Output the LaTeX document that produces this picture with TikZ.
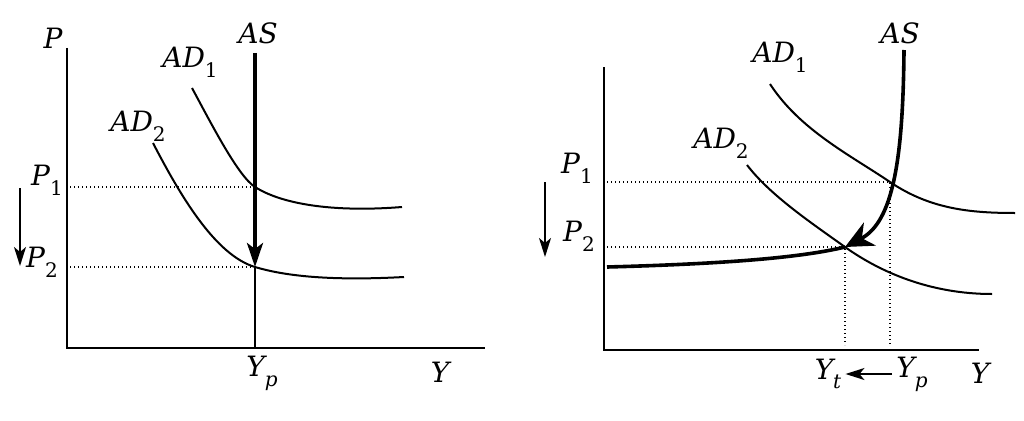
\documentclass[tikz,border=0pt]{standalone}
\usepackage{fontspec}
\setmainfont{DejaVu Serif}
\usetikzlibrary{arrows.meta}
\newcommand{\lsub}[1]{\raisebox{-0.35em}{\fontsize{20}{22}\selectfont #1}}
\tikzset{
  axis/.style={line width=2.2pt},
  curve/.style={line width=2pt},
  heavy/.style={line width=3.6pt},
  guide/.style={line width=1.3pt, dash pattern=on 1.3pt off 2.7pt},
  lbl/.style={font=\fontsize{28}{32}\selectfont\itshape, inner sep=0pt},
}
\begin{document}
\begin{tikzpicture}[x=1pt,y=-1pt]
        \useasboundingbox (0,0) rectangle (1024,420);

        % left: vertical AS
        \coordinate (le1) at (255,187);
        \coordinate (le2) at (255,267);
        \draw[axis] (67,48) -- (67,348) -- (485,348);
        \node[lbl](lp) at (53,38){P};
        \node[lbl](las) at (258,33){AS};
        \node[lbl](lad1) at (190,62){AD\lsub{\upshape 1}};
        \node[lbl](lad2) at (138,126){AD\lsub{\upshape 2}};
        \node[lbl](lp1) at (47,180){P\lsub{\upshape 1}};
        \node[lbl](lp2) at (42,262){P\lsub{\upshape 2}};
        \node[lbl](lyp) at (262,373){Y\lsub{p}};
        \node[lbl](ly) at (440,372){Y};

        \draw[curve] (192,88) .. controls (212,125) and (238,176) .. (le1) .. controls (285,206) and (340,212) .. (402,207);
        \draw[curve] (153,143) .. controls (180,195) and (215,255) .. (le2) .. controls (285,276) and (330,281) .. (404,277);
        \draw[guide] (70,187) -- (le1);
        \draw[guide] (70,267) -- (le2);
        \draw[heavy, -{Stealth[length=24pt, width=16pt, inset=6pt]}] (255,53) -- (le2);
        \draw[line width=1.8pt] (le2) -- (255,348);
        \coordinate (la1) at (20,188);
        \coordinate (la2) at (20,266);
        \draw[line width=1.8pt, -{Stealth[length=19pt, width=12pt, inset=5pt]}] (la1) -- (la2);

        % right: curved AS
        \coordinate (re1) at (890,182);
        \coordinate (re2) at (845,247);
        \draw[axis] (604,67) -- (604,350) -- (979,350);
        \node[lbl](ras) at (900,33){AS};
        \node[lbl](rad1) at (780,57){AD\lsub{\upshape 1}};
        \node[lbl](rad2) at (721,143){AD\lsub{\upshape 2}};
        \node[lbl](rp1) at (577,168){P\lsub{\upshape 1}};
        \node[lbl](rp2) at (579,236){P\lsub{\upshape 2}};
        \node[lbl](ryt) at (828,374){Y\lsub{t}};
        \node[lbl](ryp) at (912,374){Y\lsub{p}};
        \node[lbl](ry) at (980,373){Y};

        \draw[curve] (770,84) .. controls (800,130) and (850,155) .. (re1) .. controls (930,209) and (970,213) .. (1015,213);
        \draw[curve] (747,165) .. controls (770,195) and (810,222) .. (re2) .. controls (880,272) and (930,294) .. (992,294);
        \draw[guide] (607,182) -- (re1) -- (890,345);
        \draw[guide] (607,247) -- (re2) -- (845,345);
        \draw[heavy] (607,267) .. controls (720,264) and (800,258) .. (re2);
        \draw[heavy, -{Stealth[length=28pt, width=26pt, inset=9pt]}] (904,50) .. controls (903,160) and (893,222) .. (re2);
        \coordinate (ra1) at (545,182);
        \coordinate (ra2) at (545,257);
        \draw[line width=1.8pt, -{Stealth[length=19pt, width=12pt, inset=5pt]}] (ra1) -- (ra2);
        \draw[line width=1.8pt, -{Stealth[length=19pt, width=12pt, inset=5pt]}] ([xshift=-4pt]ryp.west) -- ([xshift=4pt]ryt.east);
\end{tikzpicture}
\end{document}
